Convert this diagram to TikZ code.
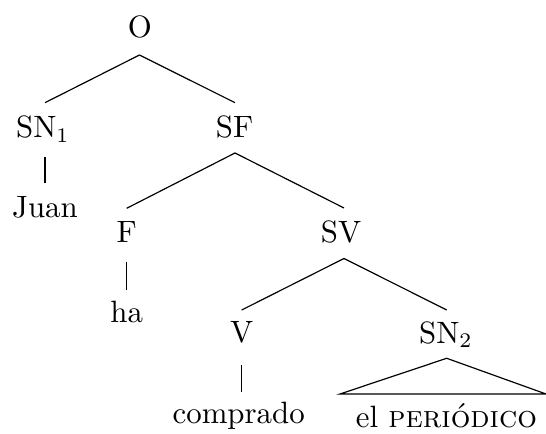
\documentclass[tikz,border=0pt]{standalone}
\usepackage{fontspec}
\begin{document}
\begin{tikzpicture}[x=0.337pt,y=-0.337pt,
  lbl/.style={anchor=base,inner sep=0pt,font=\fontsize{10.4}{12}\selectfont},
  branch/.style={line width=0.4pt}]
\useasboundingbox (0,0) rectangle (546,434);
% nodes
\node[lbl] (O)   at (140,38)    {O};
\node[lbl] (SNa) at (43,138)    {SN$_1$};
\node[lbl] (SF)  at (234.5,138) {SF};
\node[lbl] (Juan) at (45,218)   {Juan};
\node[lbl] (F)   at (126.7,243) {F};
\node[lbl] (SV)  at (341,243)   {SV};
\node[lbl] (ha)  at (126.7,323) {ha};
\node[lbl] (V)   at (241.7,343) {V};
\node[lbl] (SNb) at (446,343.5) {SN$_2$};
\node[lbl] (comp) at (238.7,424) {comprado};
\node[lbl] (per) at (446.4,427.5) {el \textsc{periódico}};
% connectors
\draw[branch] ([shift={(-0.5,17)}]O.base) -- ([shift={(2,-35.3)}]SNa.base);
\draw[branch] ([shift={(-0.5,17)}]O.base) -- ([shift={(0.5,-35.3)}]SF.base);
\draw[branch] ([shift={(2,19)}]SNa.base) -- ([shift={(0,-35)}]Juan.base);
\draw[branch] ([shift={(0.5,15)}]SF.base) -- ([shift={(0,-34.7)}]F.base);
\draw[branch] ([shift={(0.5,15)}]SF.base) -- ([shift={(3,-35)}]SV.base);
\draw[branch] ([shift={(0,18.7)}]F.base) -- ([shift={(0,-33)}]ha.base);
\draw[branch] ([shift={(3,15.5)}]SV.base) -- ([shift={(0,-33)}]V.base);
\draw[branch] ([shift={(3,15.5)}]SV.base) -- ([shift={(0.7,-33.5)}]SNb.base);
\draw[branch] ([shift={(0,22)}]V.base) -- ([shift={(3,-32.3)}]comp.base);
\draw[branch] ([shift={(0.7,14.8)}]SNb.base) -- ([shift={(-106.4,-33.5)}]per.base)
  -- ([shift={(99.6,-33.5)}]per.base) -- cycle;
\end{tikzpicture}
\end{document}
